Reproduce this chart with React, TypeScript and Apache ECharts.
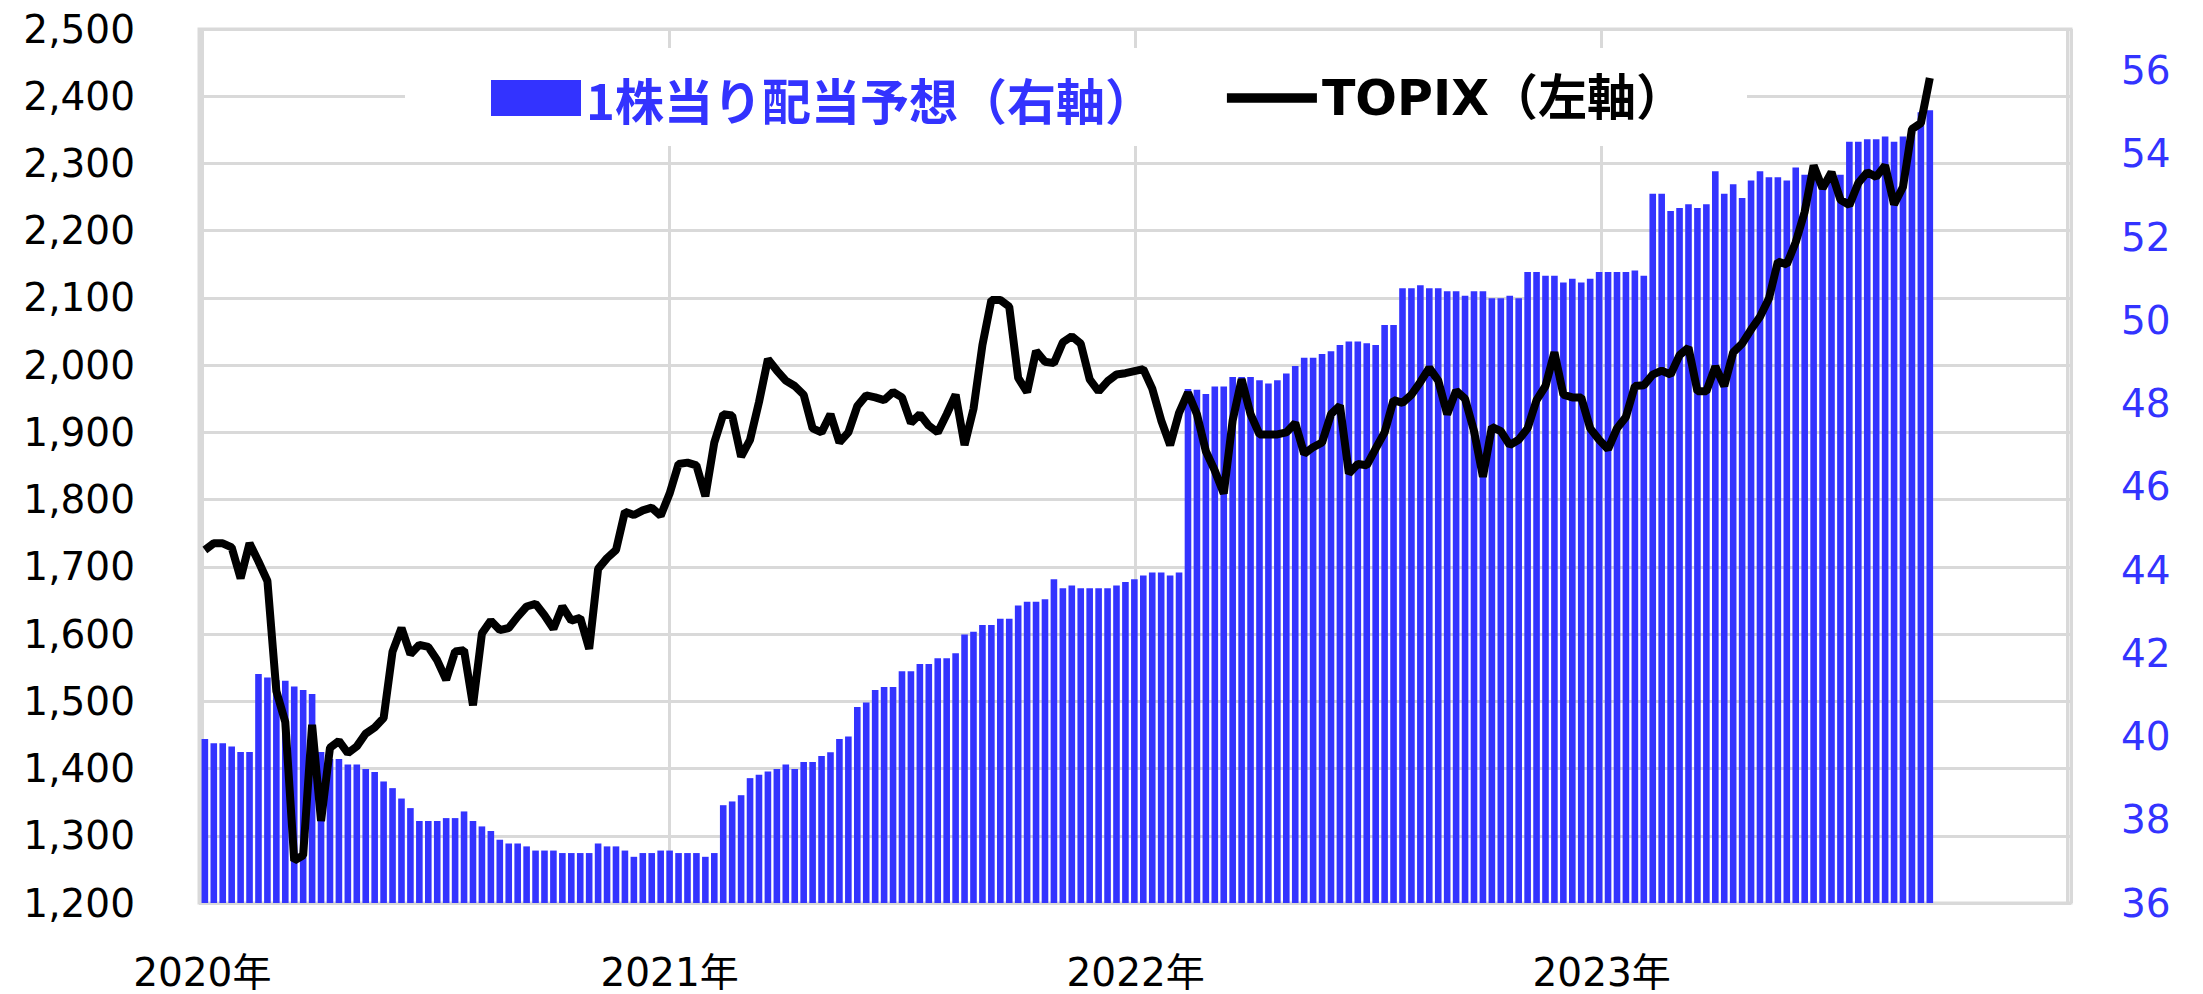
import React, { useEffect, useRef } from 'react';
import * as echarts from 'echarts';

// Weekly (Friday) observations, first week of the series
const firstWeek = { year: 2020, month: 0, day: 3 };

// 1株当り配当予想 (right axis), weekly
const dividendForecast = [
  39.94, 39.84, 39.84, 39.76, 39.63, 39.63, 41.5, 41.42, 41.35, 41.34,
  41.2, 41.12, 41.02, 39.63, 39.46, 39.46, 39.33, 39.33, 39.22, 39.15,
  38.92, 38.76, 38.51, 38.28, 37.97, 37.97, 37.97, 38.04, 38.04, 38.2,
  37.97, 37.84, 37.73, 37.52, 37.43, 37.43, 37.36, 37.26, 37.26, 37.26,
  37.2, 37.2, 37.2, 37.2, 37.43, 37.36, 37.36, 37.26, 37.11, 37.2,
  37.2, 37.26, 37.26, 37.2, 37.2, 37.2, 37.11, 37.2, 38.35, 38.44,
  38.59, 39.0, 39.08, 39.16, 39.22, 39.33, 39.22, 39.39, 39.39, 39.53,
  39.62, 39.94, 40.0, 40.71, 40.82, 41.12, 41.19, 41.19, 41.57, 41.57,
  41.74, 41.74, 41.88, 41.88, 42.0, 42.45, 42.52, 42.68, 42.68, 42.83,
  42.83, 43.15, 43.24, 43.24, 43.3, 43.78, 43.56, 43.63, 43.56, 43.56,
  43.56, 43.56, 43.63, 43.71, 43.78, 43.87, 43.94, 43.94, 43.87, 43.94,
  48.35, 48.33, 48.23, 48.41, 48.41, 48.64, 48.64, 48.64, 48.56, 48.48,
  48.56, 48.72, 48.9, 49.1, 49.1, 49.19, 49.26, 49.41, 49.49, 49.49,
  49.45, 49.41, 49.89, 49.89, 50.77, 50.77, 50.84, 50.77, 50.77, 50.7,
  50.7, 50.59, 50.7, 50.7, 50.53, 50.53, 50.59, 50.53, 51.16, 51.16,
  51.07, 51.07, 50.91, 51.0, 50.91, 51.0, 51.16, 51.16, 51.16, 51.16,
  51.2, 51.07, 53.04, 53.04, 52.63, 52.7, 52.79, 52.7, 52.79, 53.58,
  53.04, 53.27, 52.94, 53.36, 53.58, 53.44, 53.44, 53.36, 53.67, 53.5,
  53.45, 53.3, 53.5, 53.5, 54.29, 54.29, 54.35, 54.35, 54.42, 54.29,
  54.42, 54.6, 55.0, 55.05
];

// TOPIX (left axis), weekly
const topix = [
  1725, 1735, 1735, 1729, 1683, 1735, 1708, 1679, 1515, 1469,
  1263, 1271, 1465, 1322, 1431, 1441, 1423, 1433, 1452, 1461,
  1475, 1574, 1609, 1570, 1584, 1581, 1561, 1532, 1574, 1576,
  1494, 1601, 1620, 1606, 1609, 1626, 1641, 1645, 1628, 1608,
  1641, 1620, 1624, 1578, 1697, 1713, 1725, 1782, 1777, 1784,
  1788, 1776, 1809, 1853, 1855, 1851, 1805, 1885, 1927, 1925,
  1864, 1889, 1945, 2009, 1992, 1977, 1969, 1956, 1906, 1900,
  1927, 1885, 1900, 1939, 1955, 1952, 1948, 1960, 1952, 1914,
  1927, 1910, 1900, 1927, 1956, 1881, 1935, 2030, 2097, 2097,
  2087, 1981, 1960, 2021, 2005, 2003, 2034, 2043, 2032, 1979,
  1961, 1976, 1986, 1988, 1991, 1994, 1965, 1918, 1881, 1929,
  1959, 1927, 1872, 1843, 1809, 1918, 1979, 1927, 1897, 1897,
  1897, 1900, 1914, 1868, 1878, 1885, 1927, 1940, 1839, 1853,
  1851, 1876, 1900, 1948, 1944, 1956, 1975, 1996, 1977, 1927,
  1962, 1950, 1902, 1834, 1908, 1902, 1881, 1889, 1906, 1948,
  1969, 2019, 1956, 1952, 1952, 1906, 1889, 1875, 1906, 1923,
  1969, 1970, 1986, 1992, 1986, 2015, 2026, 1961, 1961, 1998,
  1969, 2019, 2032, 2053, 2072, 2099, 2154, 2150, 2183, 2228,
  2297, 2263, 2287, 2246, 2238, 2271, 2287, 2280, 2297, 2239,
  2265, 2351, 2360, 2427
];

const seriesNames = ['1株当り配当予想（右軸）', 'TOPIX（左軸）'];
const leftAxis = { min: 1200, max: 2500, interval: 100 };
const rightAxis = { min: 36, max: 57, interval: 2 };
const xRange = { startYear: 2020, endYear: 2024 };

const BLUE = '#3333ff';
const GRID = '#d9d9d9';
const LABEL_FONT = "'DejaVu Sans', 'Noto Sans CJK JP', sans-serif";

export default function App() {
  const ref = useRef<HTMLDivElement>(null);

  useEffect(() => {
    if (!ref.current) return;
    const chart = echarts.init(ref.current, undefined, { renderer: 'svg' });

    const weekTime = (i: number) =>
      new Date(firstWeek.year, firstWeek.month, firstWeek.day + 7 * i).getTime();
    const barData = dividendForecast.map((v, i) => [weekTime(i), v]);
    const lineData = topix.map((v, i) => [weekTime(i), v]);
    const YEAR = 365 * 24 * 3600 * 1000;

    chart.setOption({
      animation: false,
      backgroundColor: '#ffffff',
      grid: {
        left: 199,
        right: 132,
        top: 29,
        bottom: 91,
        show: true,
        borderColor: GRID,
        borderWidth: 3,
        backgroundColor: 'transparent',
      },
      graphic: [
        {
          type: 'rect',
          left: 405,
          top: 48,
          z: 3,
          shape: { width: 1342, height: 98 },
          style: { fill: '#ffffff' },
        },
      ],
      legend: {
        left: 491,
        top: 71,
        padding: 0,
        itemWidth: 90,
        itemHeight: 36,
        itemGap: 73,
        selectedMode: false,
        z: 5,
        data: [
          {
            name: seriesNames[0],
            icon: 'rect',
            itemStyle: { color: BLUE, borderWidth: 0 },
            textStyle: {
              color: BLUE,
              fontSize: 49,
              fontWeight: 'bold',
              fontFamily: "'Noto Sans CJK JP', sans-serif",
              lineHeight: 36,
              padding: [0, 0, 18, 0],
            },
          },
          {
            name: seriesNames[1],
            icon: 'path://M0,0H95V10H0Z',
            itemStyle: { color: '#000000', borderWidth: 0 },
            textStyle: {
              color: '#000000',
              fontSize: 49,
              fontWeight: 'bold',
              fontFamily: "'DejaVu Sans', 'Noto Sans CJK JP', sans-serif",
              lineHeight: 36,
              padding: [0, 0, 18, 0],
            },
          },
        ],
      },
      xAxis: {
        type: 'time',
        min: new Date(xRange.startYear, 0, 1).getTime(),
        max: new Date(xRange.endYear, 0, 1).getTime(),
        minInterval: YEAR,
        maxInterval: YEAR + 24 * 3600 * 1000,
        axisLine: { show: false },
        axisTick: { show: false },
        splitLine: { show: true, lineStyle: { color: GRID, width: 3 } },
        axisLabel: {
          margin: 50,
          color: '#000000',
          fontSize: 39,
          fontFamily: LABEL_FONT,
          showMaxLabel: false,
          formatter: (v: number) => {
            const y = new Date(v).getFullYear();
            return y >= xRange.endYear ? '' : `${y}年`;
          },
        },
      },
      yAxis: [
        {
          type: 'value',
          min: leftAxis.min,
          max: leftAxis.max,
          interval: leftAxis.interval,
          axisLine: { show: false },
          axisTick: { show: false },
          splitLine: { show: true, lineStyle: { color: GRID, width: 3 } },
          axisLabel: {
            margin: 64,
            color: '#000000',
            fontSize: 39,
            fontFamily: LABEL_FONT,
            padding: [0, 0, 10, 0],
            formatter: (v: number) => v.toLocaleString('en-US'),
          },
        },
        {
          type: 'value',
          min: rightAxis.min,
          max: rightAxis.max,
          interval: rightAxis.interval,
          axisLine: { show: false },
          axisTick: { show: false },
          splitLine: { show: false },
          axisLabel: {
            margin: 50,
            color: BLUE,
            fontSize: 39,
            fontFamily: LABEL_FONT,
            padding: [0, 0, 10, 0],
            showMaxLabel: false,
            formatter: (v: number) => (v > 56 ? '' : String(v)),
          },
        },
      ],
      series: [
        {
          name: seriesNames[0],
          type: 'bar',
          yAxisIndex: 1,
          data: barData,
          barWidth: 6.6,
          clip: true,
          itemStyle: { color: BLUE },
          z: 2,
        },
        {
          name: seriesNames[1],
          type: 'line',
          yAxisIndex: 0,
          data: lineData,
          symbol: 'none',
          lineStyle: { color: '#000000', width: 8 },
          itemStyle: { color: '#000000' },
          z: 4,
        },
      ],
    });

    return () => chart.dispose();
  }, []);

  return (
    <div
      ref={ref}
      style={{ position: 'absolute', left: 0, top: 0, width: 2203, height: 994, background: '#fff' }}
    />
  );
}
